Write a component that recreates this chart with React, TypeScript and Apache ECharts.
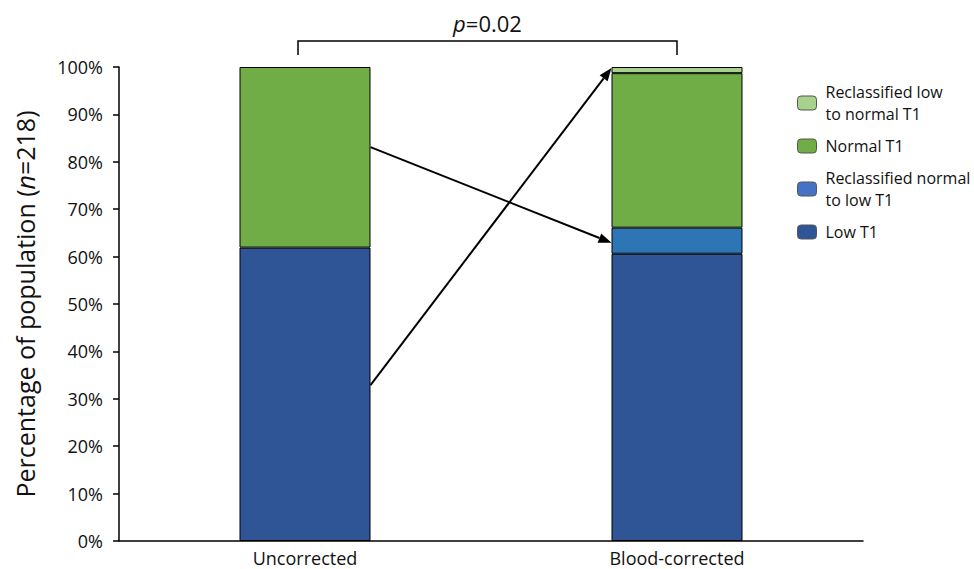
import React, { useEffect, useRef } from "react";
import * as echarts from "echarts";

const categories = ["Uncorrected", "Blood-corrected"];
const lowT1 = [61.9, 60.6];
const reclassNormalToLow = [null, 5.5];
const normalT1 = [38.1, 32.6];
const reclassLowToNormal = [null, 1.3];
const yTicks = [0, 10, 20, 30, 40, 50, 60, 70, 80, 90, 100];
// arrows: [fromCategoryIndex, fromValue, toCategoryIndex, toValue]
const arrows = [
  [0, 83.1, 1, 62.9],
  [0, 32.9, 1, 99.8],
];
const pText = "0.02";

const legendNames: Record<string, string> = {
  "Reclassified low to normal T1": "Reclassified low\nto normal T1",
  "Normal T1": "Normal T1",
  "Reclassified normal to low T1": "Reclassified normal\nto low T1",
  "Low T1": "Low T1",
};

const FONT = "'Open Sans', 'Noto Sans', sans-serif";
const BAR_W = 131;

export default function App() {
  const ref = useRef<HTMLDivElement>(null);
  useEffect(() => {
    if (!ref.current) return;
    const chart = echarts.init(ref.current, null, { renderer: "svg" });
    const barStyle = (color: string) => ({
      color,
      borderColor: "#000",
      borderWidth: 1,
    });
    chart.setOption({
      animation: false,
      textStyle: { fontFamily: FONT },
      grid: { left: 119, right: 111, top: 67, bottom: 28 },
      legend: {
        orient: "vertical",
        left: 792,
        top: 76,
        itemWidth: 19,
        itemHeight: 14,
        itemGap: 10,
        selectedMode: false,
        data: [
          { name: "Reclassified low to normal T1", itemStyle: { color: "#a9d18e", borderColor: "#555", borderWidth: 1 } },
          { name: "Normal T1", itemStyle: { color: "#70ad47", borderColor: "#555", borderWidth: 1 } },
          { name: "Reclassified normal to low T1", itemStyle: { color: "#4472c4", borderColor: "#555", borderWidth: 1 } },
          { name: "Low T1", itemStyle: { color: "#2f5597", borderColor: "#555", borderWidth: 1 } },
        ],
        formatter: (n: string) => legendNames[n] || n,
        textStyle: { fontSize: 16, lineHeight: 22, color: "#111", fontFamily: FONT, padding: [0, 0, 0, 4] },
      },
      xAxis: {
        type: "category",
        data: categories,
        axisLine: { lineStyle: { color: "#000", width: 1.5 } },
        axisTick: { show: false },
        axisLabel: { fontSize: 18, color: "#111", margin: 8, fontFamily: FONT },
      },
      yAxis: {
        type: "value",
        min: 0,
        max: 100,
        interval: 10,
        splitLine: { show: false },
        axisLine: { show: true, lineStyle: { color: "#000", width: 1.5 } },
        axisTick: { show: true, length: 6, inside: false, lineStyle: { color: "#000", width: 1.5 } },
        axisLabel: {
          fontSize: 18,
          color: "#111",
          margin: 16,
          fontFamily: FONT,
          formatter: (v: number) => (yTicks.includes(v) ? v + "%" : ""),
        },
        name: "Percentage of population ({i|n}=218)",
        nameLocation: "middle",
        nameGap: 82,
        nameTextStyle: {
          fontSize: 25,
          color: "#111",
          fontFamily: FONT,
          rich: { i: { fontSize: 25, fontStyle: "italic", color: "#111", fontFamily: FONT } },
        },
      },
      series: [
        { name: "Low T1", type: "bar", stack: "t", barWidth: BAR_W, data: lowT1, itemStyle: barStyle("#2f5597") },
        { name: "Reclassified normal to low T1", type: "bar", stack: "t", barWidth: BAR_W, data: reclassNormalToLow, itemStyle: barStyle("#2e75b6") },
        { name: "Normal T1", type: "bar", stack: "t", barWidth: BAR_W, data: normalT1, itemStyle: barStyle("#70ad47") },
        { name: "Reclassified low to normal T1", type: "bar", stack: "t", barWidth: BAR_W, data: reclassLowToNormal, itemStyle: barStyle("#a9d18e") },
        {
          name: "arrows",
          type: "custom",
          clip: false,
          silent: true,
          z: 10,
          data: arrows,
          renderItem: (params: any, api: any) => {
            const p1 = api.coord([api.value(0), api.value(1)]);
            const p2 = api.coord([api.value(2), api.value(3)]);
            const x1 = p1[0] + BAR_W / 2;
            const y1 = p1[1];
            const x2 = p2[0] - BAR_W / 2;
            const y2 = p2[1];
            const ang = Math.atan2(y2 - y1, x2 - x1);
            const L = 13, W = 5;
            const bx = x2 - L * Math.cos(ang);
            const by = y2 - L * Math.sin(ang);
            const nx = -Math.sin(ang), ny = Math.cos(ang);
            return {
              type: "group",
              children: [
                { type: "line", shape: { x1, y1, x2: bx, y2: by }, style: { stroke: "#000", lineWidth: 2 } },
                {
                  type: "polygon",
                  shape: { points: [[x2, y2], [bx + nx * W, by + ny * W], [bx - nx * W, by - ny * W]] },
                  style: { fill: "#000" },
                },
              ],
            };
          },
        },
        {
          name: "bracket",
          type: "custom",
          clip: false,
          silent: true,
          data: [[0, 1]],
          renderItem: (params: any, api: any) => {
            const a = api.coord([api.value(0), 100]);
            const b = api.coord([api.value(1), 100]);
            const xa = a[0] - 7;
            const xb = b[0];
            const top = a[1] - 26;
            const bot = a[1] - 12;
            return {
              type: "group",
              children: [
                {
                  type: "polyline",
                  shape: { points: [[xa, bot], [xa, top], [xb, top], [xb, bot]] },
                  style: { stroke: "#000", lineWidth: 1.5, fill: "none" },
                },
                {
                  type: "text",
                  x: (xa + xb) / 2,
                  y: top - 18,
                  style: {
                    text: "{i|p}{n|=" + pText + "}",
                    align: "center",
                    verticalAlign: "middle",
                    rich: {
                      i: { fontSize: 22, fontStyle: "italic", fill: "#111", fontFamily: FONT },
                      n: { fontSize: 22, fill: "#111", fontFamily: FONT },
                    },
                  },
                },
              ],
            };
          },
        },
      ],
    });
    return () => chart.dispose();
  }, []);
  return <div ref={ref} style={{ width: 974, height: 569, position: "absolute", left: 0, top: 0 }} />;
}
